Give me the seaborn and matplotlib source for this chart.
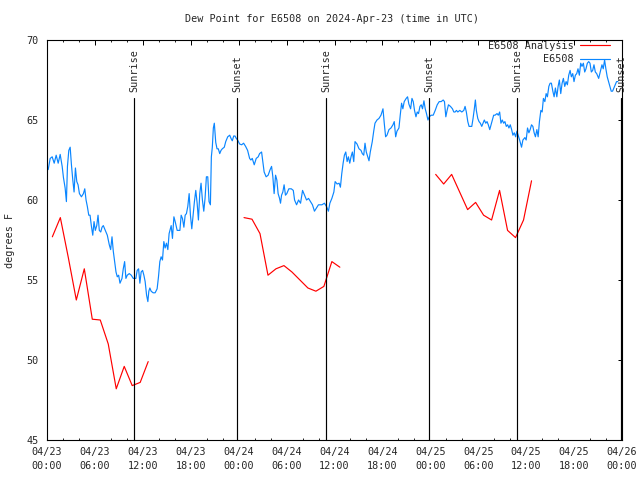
import numpy as np
import pandas as pd
import matplotlib
matplotlib.use("Agg")
import matplotlib.pyplot as plt
from matplotlib.lines import Line2D
from matplotlib.ticker import FixedLocator, MultipleLocator, FixedFormatter
import seaborn as sns

# ---------------- data ----------------
title = "Dew Point for E6508 on 2024-Apr-23 (time in UTC)"
y_label = "degrees F"
series_names = ["E6508 Analysis", "E6508"]

# observed dew point (hours since 2024-04-23 00:00 UTC)
obs_hours = [
    0.15, 0.40, 0.65, 0.90, 1.15, 1.40, 1.65, 1.90, 2.06, 2.27,
    2.43, 2.56, 2.73, 2.90, 3.06, 3.23, 3.39, 3.56, 3.73, 3.89,
    4.06, 4.31, 4.56, 4.73, 4.89, 5.05, 5.23, 5.39, 5.55, 5.73,
    5.89, 6.05, 6.23, 6.39, 6.55, 6.73, 6.89, 7.05, 7.30, 7.55,
    7.80, 7.97, 8.14, 8.30, 8.47, 8.64, 8.80, 8.97, 9.14, 9.39,
    9.55, 9.72, 9.88, 10.05, 10.30, 10.55, 10.80, 11.13, 11.29, 11.47,
    11.63, 11.79, 11.97, 12.13, 12.29, 12.47, 12.63, 12.75, 12.88, 13.04,
    13.29, 13.54, 13.79, 13.96, 14.13, 14.29, 14.46, 14.63, 14.79, 14.96,
    15.13, 15.29,
    15.55, 15.71, 15.89, 16.05, 16.30, 16.64, 16.80, 16.96, 17.14, 17.30,
    17.46, 17.63, 17.80, 17.96, 18.13, 18.30, 18.46, 18.63, 18.80, 18.96,
    19.13, 19.29, 19.46, 19.63, 19.79, 19.96, 20.13, 20.29, 20.46, 20.58,
    20.70, 20.83, 20.95, 21.13, 21.29, 21.45, 21.63, 21.79, 21.95, 22.20,
    22.38, 22.63, 22.88, 23.04, 23.20, 23.38, 23.54, 23.70, 23.87, 24.12,
    24.37, 24.62, 24.87, 25.12, 25.37, 25.53, 25.70, 25.95, 26.20, 26.45,
    26.62, 26.87, 27.03, 27.19, 27.44, 27.69, 27.94, 28.12, 28.28, 28.44,
    28.62, 28.78, 28.94, 29.12, 29.24, 29.37, 29.53, 29.69, 29.86, 30.03,
    30.28,
    30.59, 30.84, 31.00, 31.25, 31.50, 31.75, 32.00, 32.25, 32.50, 32.75,
    33.00, 33.24, 33.49, 33.74, 33.99, 34.42, 34.74, 34.99, 35.24, 35.42,
    35.67, 35.92, 36.08, 36.33, 36.58, 36.74, 36.91, 37.08, 37.24, 37.41,
    37.58, 37.74, 37.91, 38.07, 38.24, 38.41, 38.57, 38.82, 39.07, 39.32,
    39.48, 39.66, 39.82, 39.98, 40.16, 40.32, 40.48, 40.73, 40.91, 41.07,
    41.32, 41.57, 41.82, 42.07, 42.23, 42.40, 42.57, 42.82, 43.07, 43.32,
    43.48, 43.66, 43.82, 44.07, 44.23, 44.40, 44.56, 44.73, 44.98, 45.15,
    45.31,
    45.53, 45.70, 45.86, 46.02, 46.20, 46.36, 46.52, 46.70, 46.86, 47.02,
    47.20, 47.36, 47.52, 47.70, 47.86, 48.11, 48.36, 48.61, 48.86, 49.11,
    49.36, 49.61, 49.77, 49.94, 50.10, 50.27, 50.52, 50.77, 50.94, 51.10,
    51.27, 51.44, 51.69, 51.94, 52.19, 52.35, 52.51, 52.69, 52.85, 53.19,
    53.35, 53.51, 53.64, 53.76, 53.94, 54.10, 54.26, 54.44, 54.60, 54.76,
    54.94, 55.10, 55.26, 55.44, 55.60, 55.76, 55.93, 56.10, 56.35, 56.51,
    56.68, 56.84, 57.01, 57.18, 57.34, 57.51, 57.68, 57.84, 58.01, 58.18,
    58.34, 58.51, 58.68, 58.84, 59.00, 59.18,
    59.42, 59.59, 59.84, 60.00, 60.17, 60.34, 60.50, 60.67, 60.84, 61.00,
    61.16, 61.34, 61.50, 61.66, 61.84, 62.00, 62.16, 62.34, 62.50, 62.66,
    62.84, 63.00, 63.16, 63.34, 63.50, 63.66, 63.84, 64.00, 64.16, 64.33,
    64.50, 64.66, 64.83, 65.00, 65.16, 65.33, 65.50, 65.66, 65.83, 65.99,
    66.16, 66.33, 66.49, 66.66, 66.83, 66.99, 67.16, 67.33, 67.49, 67.66,
    67.83, 67.99, 68.16, 68.33, 68.49, 68.66, 68.83, 69.08, 69.32, 69.49,
    69.65, 69.82, 69.98, 70.15, 70.32, 70.48, 70.65, 70.82, 70.98, 71.15,
    71.32, 71.49,
]
obs_values = [
    61.9, 62.6, 62.7, 62.3, 62.8, 62.3, 62.85, 62.1, 61.4, 60.75,
    59.9, 62.1, 63.1, 63.3, 62.2, 61.25, 60.5, 62.0, 61.15, 60.95,
    60.4, 60.2, 60.4, 60.7, 60.0, 59.6, 59.05, 59.05, 58.4, 57.8,
    58.65, 58.1, 58.4, 59.05, 58.1, 58.0, 58.3, 58.4, 58.1, 57.8,
    57.2, 56.9, 57.7, 56.8, 56.15, 55.5, 55.2, 55.3, 54.8, 55.1,
    55.7, 56.15, 55.1, 55.3, 55.4, 55.3, 55.1, 55.1, 55.6, 55.7,
    54.8, 55.5, 55.6, 55.3, 54.9, 54.05, 53.65, 54.3, 54.5, 54.3,
    54.2, 54.2, 54.45, 55.2, 56.15, 56.45, 56.25, 57.4, 57.0, 57.3,
    56.9, 57.9,
    58.4, 57.6, 58.95, 58.65, 58.1, 58.1, 59.05, 58.85, 58.3, 59.05,
    59.15, 59.6, 60.4, 59.05, 58.2, 59.05, 59.9, 60.6, 59.8, 58.75,
    60.4, 61.05, 60.0, 59.3, 60.1, 61.45, 61.45, 59.9, 59.7, 62.7,
    63.3, 64.5, 64.8, 63.6, 63.2, 63.2, 62.9, 63.1, 63.2, 63.3,
    63.65, 63.95, 64.05, 63.85, 63.7, 64.0, 64.0, 63.85, 63.75, 63.5,
    63.45, 63.55, 63.35, 63.1, 62.6, 62.5, 62.6, 62.2, 62.6, 62.7,
    62.9, 63.0, 62.4, 61.75, 61.45, 61.55, 61.9, 62.1, 61.45, 60.4,
    61.55, 61.25, 60.4, 60.1, 59.8, 60.3, 60.5, 60.95, 60.3, 60.4,
    60.7,
    60.7, 60.6, 60.0, 59.7, 60.0, 59.8, 60.6, 60.3, 60.0, 60.1,
    59.9, 59.7, 59.3, 59.5, 59.7, 59.7, 59.8, 59.6, 59.3, 59.8,
    60.1, 60.5, 61.15, 61.0, 61.05, 60.8, 61.65, 62.3, 62.8, 63.0,
    62.4, 62.7, 62.3, 62.7, 63.0, 62.4, 63.65, 63.5, 63.2, 63.1,
    62.9, 62.8, 63.55, 63.0, 62.7, 62.45, 63.0, 63.65, 64.3, 64.8,
    65.0, 65.1, 65.3, 65.7, 64.8, 63.95, 64.05, 64.4, 64.5, 64.7,
    64.9, 63.95, 64.3, 64.5, 65.3, 66.05, 65.7, 66.15, 66.35, 66.45,
    66.0,
    65.7, 66.35, 66.15, 65.6, 65.2, 65.5, 65.4, 65.85, 65.95, 65.7,
    66.2, 65.7, 65.4, 65.0, 65.2, 65.3, 65.3, 65.6, 65.95, 66.15,
    66.15, 66.25, 66.15, 65.2, 65.6, 65.95, 65.85, 65.7, 65.5, 65.5,
    65.6, 65.5, 65.6, 65.5, 65.6, 65.85, 65.5, 64.9, 64.6, 64.6,
    65.1, 65.7, 66.25, 65.6, 65.1, 64.9, 64.8, 64.6, 64.8, 65.0,
    64.8, 64.9, 64.7, 64.4, 64.7, 65.0, 65.3, 65.3, 65.4, 65.3,
    65.5, 64.8, 65.0, 64.8, 64.9, 64.6, 64.7, 64.5, 64.7, 64.4,
    64.05, 64.2, 63.95, 64.3, 64.05, 63.75,
    63.3, 63.75, 63.9, 63.75, 64.5, 64.2, 64.4, 64.7, 64.6, 64.2,
    63.95, 64.4, 63.95, 64.9, 65.6, 65.5, 66.35, 66.15, 66.65, 66.45,
    67.1, 67.3, 67.3, 66.8, 66.45, 67.0, 66.45, 67.1, 67.5, 66.65,
    67.3, 67.6, 67.1, 67.4, 67.2, 67.8, 68.1, 67.7, 67.9, 67.4,
    67.8, 67.9, 68.2, 67.8, 68.55, 68.35, 68.55, 68.0, 68.2, 68.55,
    68.65, 68.55, 68.0, 68.1, 68.45, 68.0, 67.9, 67.6, 68.1, 68.45,
    68.2, 68.75, 68.2, 67.7, 67.4, 67.1, 66.8, 66.8, 67.0, 67.2,
    67.4, 67.4,
]

# analysis (three 12-hour runs)
ana_hours = [
    0.67, 1.67, 2.67, 3.67, 4.67, 5.67, 6.67, 7.67, 8.67, 9.67, 10.67, 11.67, 12.67,
    24.67, 25.67, 26.67, 27.67, 28.67, 29.67, 30.67, 31.67, 32.67, 33.67, 34.67, 35.67, 36.67,
    48.67, 49.67, 50.67, 51.67, 52.67, 53.67, 54.67, 55.67, 56.67, 57.67, 58.67, 59.67, 60.67,
]
ana_values = [
    57.7, 58.9, 56.4, 53.75, 55.7, 52.55, 52.5, 51.0, 48.2, 49.6, 48.4, 48.6, 49.9,
    58.9, 58.8, 57.9, 55.3, 55.7, 55.9, 55.5, 55.0, 54.5, 54.3, 54.6, 56.15, 55.8,
    61.6, 61.0, 61.6, 60.5, 59.4, 59.85, 59.05, 58.75, 60.6, 58.1, 57.65, 58.75, 61.2,
]
ana_run = [1] * 13 + [2] * 13 + [3] * 13

event_names = ["Sunrise", "Sunset", "Sunrise", "Sunset", "Sunrise", "Sunset"]
event_hours = [10.93, 23.83, 34.95, 47.85, 58.90, 71.88]

x_tick_hours = [0, 6, 12, 18, 24, 30, 36, 42, 48, 54, 60, 66, 72]
x_tick_labels = ["04/23\n00:00", "04/23\n06:00", "04/23\n12:00", "04/23\n18:00",
                 "04/24\n00:00", "04/24\n06:00", "04/24\n12:00", "04/24\n18:00",
                 "04/25\n00:00", "04/25\n06:00", "04/25\n12:00", "04/25\n18:00",
                 "04/26\n00:00"]
y_ticks = [45, 50, 55, 60, 65, 70]

# ---------------- plot ----------------
sns.set_style("white")
plt.rcParams["font.family"] = ["DejaVu Sans Mono", "DejaVu Sans"]
FS = 7.3
BLUE = "#0a86ff"
RED = "#ff0000"
LW = 0.85

obs_df = pd.DataFrame({"hour": obs_hours, "dewpoint": obs_values})
ana_df = pd.DataFrame({"hour": ana_hours, "dewpoint": ana_values, "run": ana_run})

fig = plt.figure(figsize=(6.4, 4.8), dpi=100)
ax = fig.add_axes([47 / 640, 40 / 480, 575 / 640, 400 / 480])

sns.lineplot(data=ana_df, x="hour", y="dewpoint", units="run", estimator=None,
             sort=False, color=RED, lw=LW, ax=ax, legend=False)
sns.lineplot(data=obs_df, x="hour", y="dewpoint", estimator=None, sort=False,
             color=BLUE, lw=LW, ax=ax, legend=False)

ax.set_xlim(0, 72)
ax.set_ylim(45, 70)
ax.set_xlabel("")
ax.set_ylabel("")

# sunrise / sunset markers
for name, h in zip(event_names, event_hours):
    ax.plot([h, h], [0, 0.855], color="black", lw=LW,
            transform=ax.get_xaxis_transform(), clip_on=False)
    ax.text(h, 0.87, name, rotation=90, ha="center", va="bottom",
            fontsize=FS, transform=ax.get_xaxis_transform())

ax.xaxis.set_major_locator(FixedLocator(x_tick_hours))
ax.xaxis.set_major_formatter(FixedFormatter(x_tick_labels))
ax.xaxis.set_minor_locator(MultipleLocator(2))
ax.yaxis.set_major_locator(FixedLocator(y_ticks))
ax.tick_params(axis="both", which="major", direction="in", length=4.5 * 0.72,
               width=0.72, top=True, right=True, labelsize=FS, color="black")
ax.tick_params(axis="x", which="minor", direction="in", length=2.5 * 0.72,
               width=0.72, top=True, bottom=True)
ax.tick_params(axis="x", which="major", pad=5)
ax.tick_params(axis="y", which="major", pad=6)
for lbl in ax.get_xticklabels():
    lbl.set_linespacing(1.45)

for s in ax.spines.values():
    s.set_visible(True)
    s.set_color("black")
    s.set_linewidth(0.8)

handles = [Line2D([], [], color=RED, lw=LW), Line2D([], [], color=BLUE, lw=LW)]
ax.legend(handles, series_names, loc="upper right", bbox_to_anchor=(0.979, 0.998),
          frameon=False, markerfirst=False, handlelength=3.0, handletextpad=0.6,
          labelspacing=0.35, borderpad=0, borderaxespad=0, fontsize=FS)

fig.text(332 / 640, 1 - 19 / 480, title, ha="center", va="center", fontsize=FS)
fig.text(10 / 640, 0.5, y_label, rotation=90, ha="center", va="center", fontsize=FS)

fig.savefig("out.png", dpi=100)
